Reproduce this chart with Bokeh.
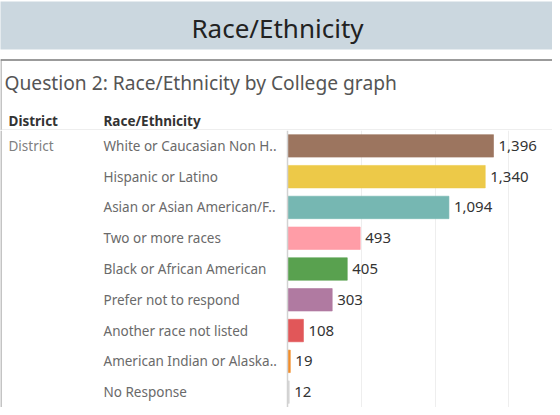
from bokeh.plotting import figure
from bokeh.models import Range1d, FactorRange, FixedTicker, Span, Label, ColumnDataSource
from bokeh.layouts import column
from bokeh.core.properties import value
from bokeh.embed import file_html
from bokeh.resources import INLINE

# ---- data ----
categories = [
    "White or Caucasian Non H..",
    "Hispanic or Latino",
    "Asian or Asian American/F..",
    "Two or more races",
    "Black or African American",
    "Prefer not to respond",
    "Another race not listed",
    "American Indian or Alaska..",
    "No Response",
]
counts = [1396, 1340, 1094, 493, 405, 303, 108, 19, 12]
district = ["District"] + [""] * 8
grid_ticks = [500, 1000, 1500]

# ---- styles ----
bar_colors = ["#9C755F", "#EDC948", "#76B7B2", "#FF9DA7", "#59A14F",
              "#B07AA1", "#E15759", "#F28E2B", "#D5D5D5"]
FONT = "Noto Sans"
W = 552
TOP_H = 130
BOT_H = 277

# ---- top header figure (pixel-like coords) ----
top = figure(width=W, height=TOP_H, output_backend="svg", toolbar_location=None,
             x_range=Range1d(0, W), y_range=Range1d(TOP_H, 0),
             min_border=0, outline_line_color=None)
top.axis.visible = False
top.grid.visible = False

top.quad(left=[-2], right=[W], top=[1], bottom=[49], fill_color="#CBD7DF", line_color=None)
top.add_layout(Label(x=277, y=27, text="Race/Ethnicity", text_align="center",
                     text_baseline="middle", text_font=FONT, text_font_size="26px",
                     text_color="#222222"))
# inner box borders
top.segment(x0=[0], y0=[59.5], x1=[W], y1=[59.5], line_color="#7a7a7a", line_width=1.5)
top.segment(x0=[0.5], y0=[59], x1=[0.5], y1=[TOP_H], line_color="#8a8a8a", line_width=1)
top.add_layout(Label(x=4, y=82, text="Question 2: Race/Ethnicity by College graph",
                     text_align="left", text_baseline="middle", text_font=FONT,
                     text_font_size="19.2px", text_color="#555555"))
top.add_layout(Label(x=8, y=120, text="District", text_align="left",
                     text_baseline="middle", text_font=FONT, text_font_size="13.5px",
                     text_font_style="bold", text_color="#333333"))
top.add_layout(Label(x=103, y=120, text="Race/Ethnicity", text_align="left",
                     text_baseline="middle", text_font=FONT, text_font_size="13.5px",
                     text_font_style="bold", text_color="#333333"))
top.segment(x0=[0], y0=[129.5], x1=[W], y1=[129.5], line_color="#dddddd", line_width=1)

# ---- bottom bar figure ----
ppu = 206 / 1396.0           # pixels per unit
zero_px = 287                # zero position inside figure
x_start = -zero_px / ppu
x_end = (W - zero_px) / ppu

src = ColumnDataSource(dict(cat=categories, n=counts, color=bar_colors,
                            lab=[f"{v:,}" for v in counts], dist=district))

bot = figure(width=W, height=BOT_H, output_backend="svg", toolbar_location=None,
             x_range=Range1d(x_start, x_end),
             y_range=FactorRange(factors=list(reversed(categories)), range_padding=0),
             min_border=0, outline_line_color=None)
bot.axis.visible = False
bot.ygrid.visible = False
bot.xgrid.ticker = FixedTicker(ticks=grid_ticks)
bot.xgrid.grid_line_color = "#EEEEEE"
bot.xgrid.grid_line_width = 1

bot.add_layout(Span(location=0, dimension="height", line_color="#D2D2D2", line_width=1.5))
bot.add_layout(Span(location=0.5, location_units="screen", dimension="height",
                    line_color="#8a8a8a", line_width=1))

bot.hbar(y="cat", right="n", left=0, height=0.73, fill_color="color",
         line_color="color", line_alpha=0.6, source=src)

label_x = x_start + 103 / ppu
dist_x = x_start + 8 / ppu
bot.text(x=label_x, y="cat", text="cat", source=src, text_align="left",
         text_baseline="middle", text_font=value(FONT), text_font_size="13.5px",
         text_color="#6a6a6a")
bot.text(x=dist_x, y="cat", text="dist", source=src, text_align="left",
         text_baseline="middle", text_font=value(FONT), text_font_size="13.5px",
         text_color="#808080")
bot.text(x="n", y="cat", text="lab", source=src, x_offset=5, text_align="left",
         text_baseline="middle", text_font=value(FONT), text_font_size="15px",
         text_color="#333333")

layout = column(top, bot, spacing=0)
open("out.html", "w").write(file_html(layout, INLINE))
